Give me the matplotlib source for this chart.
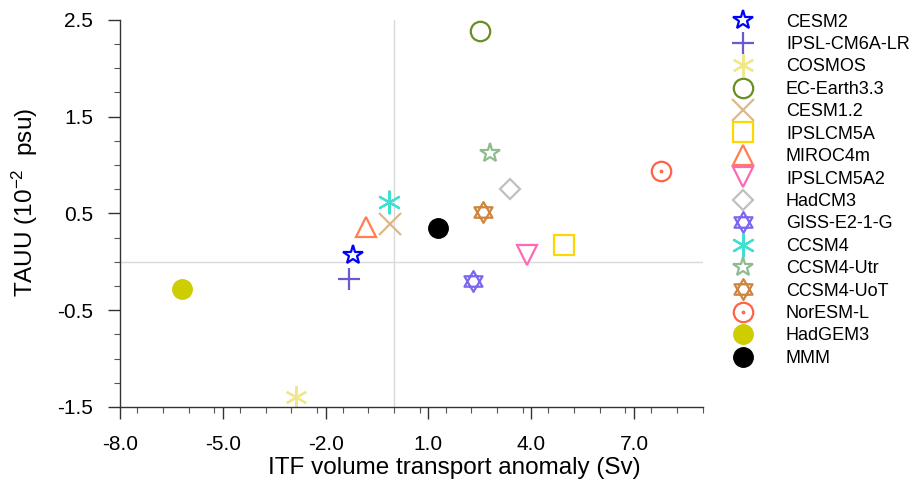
import matplotlib
matplotlib.use('Agg')
from matplotlib import pyplot as plt
from matplotlib.path import Path
from matplotlib.ticker import MultipleLocator, FormatStrFormatter

plt.rcParams['font.family'] = ['Liberation Sans', 'DejaVu Sans']
plt.rcParams['mathtext.default'] = 'regular'

modelos = ['CESM2', 'IPSL-CM6A-LR', 'COSMOS', 'EC-Earth3.3', 'CESM1.2', 'IPSLCM5A',
           'MIROC4m', 'IPSLCM5A2', 'HadCM3', 'GISS-E2-1-G', 'CCSM4', 'CCSM4-Utr',
           'CCSM4-UoT', 'NorESM-L', 'HadGEM3', 'MMM']
itf = [-1.19, -1.33, -2.85, 2.50, -0.11, 4.95, -0.81, 3.87, 3.37, 2.29, -0.16, 2.79,
       2.58, 7.79, -6.19, 1.27]
tauu = [0.07, -0.18, -1.40, 2.38, 0.39, 0.17, 0.36, 0.07, 0.75, -0.20, 0.62, 1.125,
        0.51, 0.94, -0.28, 0.35]
cores = ['#0000FF', '#6A5ACD', '#F0E68C', '#6B8E23', '#DEB887', '#FFD700', '#FF7F50',
         '#FF69B4', '#C0C0C0', '#7B68EE', '#40E0D0', '#8FBC8F', '#CD853F', '#FF6347',
         '#CDCD00', '#000000']

# marcadores especiais
estrela_davi = Path([(0, 1), (0.866, -0.5), (-0.866, -0.5), (0, 1),
                     (0, -1), (0.866, 0.5), (-0.866, 0.5), (0, -1)],
                    [Path.MOVETO, Path.LINETO, Path.LINETO, Path.CLOSEPOLY,
                     Path.MOVETO, Path.LINETO, Path.LINETO, Path.CLOSEPOLY])
circ = Path.unit_circle()
ponto = Path(circ.vertices * 0.08, circ.codes)
circulo_ponto = Path.make_compound_path(circ, ponto)

marcadores = ['*', '+', (6, 2, 0), 'o', 'x', 's', '^', 'v', 'D', estrela_davi,
              (6, 2, 0), '*', estrela_davi, circulo_ponto, 'o', 'o']
tamanhos = [15, 16, 16, 14, 16, 14, 15, 15, 10, 15, 17, 15, 15, 14, 14, 14]
preenchido = [False] * 14 + [True, True]

fig = plt.figure(dpi=100, figsize=(9.16, 4.95))
ax = fig.add_axes([0.131, 0.178, 0.636, 0.782])

ax.axvline(0, color='#D9D9D9', lw=1, zorder=0)
ax.axhline(0, color='#D9D9D9', lw=1, zorder=0)

for i in range(len(modelos)):
    if preenchido[i]:
        ax.plot(itf[i], tauu[i], linestyle='none', marker=marcadores[i], ms=tamanhos[i],
                mfc=cores[i], mec=cores[i], label=modelos[i])
    else:
        ax.plot(itf[i], tauu[i], linestyle='none', marker=marcadores[i], ms=tamanhos[i],
                mfc='none', mec=cores[i], mew=1.6, label=modelos[i])

ax.set_xlim(-8, 9)
ax.set_ylim(-1.5, 2.5)
ax.xaxis.set_minor_locator(MultipleLocator(0.75))
ax.yaxis.set_minor_locator(MultipleLocator(0.25))
ax.set_xticks([-8, -5, -2, 1, 4, 7])
ax.set_yticks([-1.5, -0.5, 0.5, 1.5, 2.5])
ax.xaxis.set_major_formatter(FormatStrFormatter('%.1f'))
ax.yaxis.set_major_formatter(FormatStrFormatter('%.1f'))

for lado in ['top', 'right']:
    ax.spines[lado].set_visible(False)
for lado in ['left', 'bottom']:
    ax.spines[lado].set_color('#333333')
    ax.spines[lado].set_linewidth(1)

ax.tick_params(axis='both', which='major', direction='out', length=8.5, width=1,
               labelsize=15, colors='#333333', labelcolor='black')
ax.tick_params(axis='x', which='major', pad=12)
ax.tick_params(axis='y', which='major', pad=11)
ax.tick_params(axis='both', which='minor', direction='out', length=4.5, width=0.8,
               colors='#555555')

ax.set_xlabel('ITF volume transport anomaly (Sv)', fontsize=17.5)
ax.set_ylabel('TAUU (10$^{-2}$  psu)', fontsize=17.5)
ax.xaxis.set_label_coords(0.574, -0.13)
ax.yaxis.set_label_coords(-0.137, 0.527)

fig.legend(loc='upper left', bbox_to_anchor=(0.787, 0.987), frameon=False,
           fontsize=13, labelspacing=0.3, handlelength=1.6, handletextpad=1.6,
           borderaxespad=0, numpoints=1)

plt.savefig('out.png', dpi=100)
